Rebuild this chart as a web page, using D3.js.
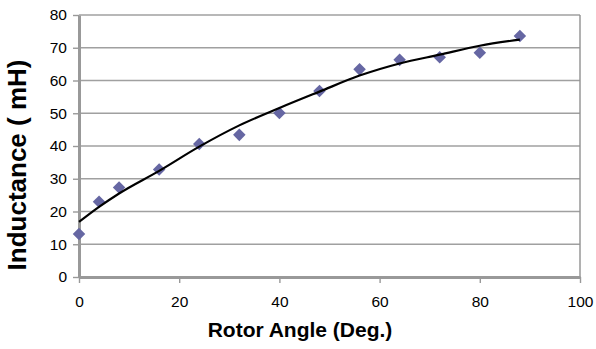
<!DOCTYPE html>
<html>
<head>
<meta charset="utf-8">
<script src="https://cdn.jsdelivr.net/npm/d3@7"></script>
<style>
  body { margin: 0; background: #fff; }
  text { font-family: "Liberation Sans", Arial, sans-serif; }
</style>
</head>
<body>
<div id="chart"></div>
<script>
/* data */
var angles = [0, 4, 8, 16, 24, 32, 40, 48, 56, 64, 72, 80, 88];
var inductance = [13.1, 23.0, 27.3, 32.8, 40.6, 43.4, 50.1, 56.8, 63.4, 66.3, 67.1, 68.5, 73.6];
// trend line, read at the same angles
var trend = [16.8, 21.4, 25.5, 32.4, 39.8, 46.3, 51.6, 56.6, 61.5, 65.2, 67.9, 70.6, 72.5];
var xTicks = [0, 20, 40, 60, 80, 100];
var yTicks = [0, 10, 20, 30, 40, 50, 60, 70, 80];

var W = 596, H = 349;
var margin = {left: 79, top: 15, right: 16, bottom: 72};
var pw = W - margin.left - margin.right, ph = H - margin.top - margin.bottom;

var svg = d3.select('#chart').append('svg')
    .attr('width', W).attr('height', H);

var x = d3.scaleLinear().domain([0, 100]).range([margin.left, margin.left + pw]);
var y = d3.scaleLinear().domain([0, 80]).range([margin.top + ph, margin.top]);

// gridlines
svg.append('g').selectAll('line').data(yTicks.filter(function(d) { return d > 0; }))
  .enter().append('line')
    .attr('x1', x(0)).attr('x2', x(100))
    .attr('y1', function(d) { return y(d); }).attr('y2', function(d) { return y(d); })
    .attr('stroke', '#a0a0a0').attr('stroke-width', 1.4);

// right border
svg.append('line')
    .attr('x1', x(100)).attr('x2', x(100)).attr('y1', y(80)).attr('y2', y(0))
    .attr('stroke', '#909090').attr('stroke-width', 1.4);

// axes
var xAxis = svg.append('g').attr('transform', 'translate(0,' + y(0) + ')')
    .call(d3.axisBottom(x).tickValues(xTicks).tickSize(6).tickPadding(13).tickSizeOuter(0));
var yAxis = svg.append('g').attr('transform', 'translate(' + x(0) + ',0)')
    .call(d3.axisLeft(y).tickValues(yTicks).tickSize(6).tickPadding(6).tickSizeOuter(0));

[xAxis, yAxis].forEach(function(g) {
  g.select('.domain').attr('stroke', '#999').attr('stroke-width', 3);
  g.selectAll('.tick line').attr('stroke', '#999').attr('stroke-width', 1.4);
  g.selectAll('.tick text').attr('fill', '#000').style('font-size', '15.5px')
    .style('font-family', '"Liberation Sans", Arial, sans-serif');
});

// markers
var diamond = d3.symbol().type(d3.symbolDiamond2).size(100);
svg.append('g').selectAll('path').data(angles)
  .enter().append('path')
    .attr('d', diamond)
    .attr('transform', function(d, i) { return 'translate(' + x(d) + ',' + y(inductance[i]) + ')'; })
    .attr('fill', '#6667a3');

// trend line
var line = d3.line()
    .x(function(d, i) { return x(angles[i]); })
    .y(function(d) { return y(d); })
    .curve(d3.curveMonotoneX);
svg.append('path').datum(trend)
    .attr('d', line)
    .attr('fill', 'none').attr('stroke', '#000').attr('stroke-width', 2.2);

// axis titles
svg.append('text')
    .attr('x', 300).attr('y', 337)
    .attr('text-anchor', 'middle')
    .style('font-size', '21px').style('font-weight', 'bold')
    .text('Rotor Angle (Deg.)');
svg.append('text')
    .attr('transform', 'translate(26,165) rotate(-90)')
    .attr('text-anchor', 'middle')
    .style('font-size', '26px').style('font-weight', 'bold')
    .text('Inductance ( mH)');
</script>
</body>
</html>
